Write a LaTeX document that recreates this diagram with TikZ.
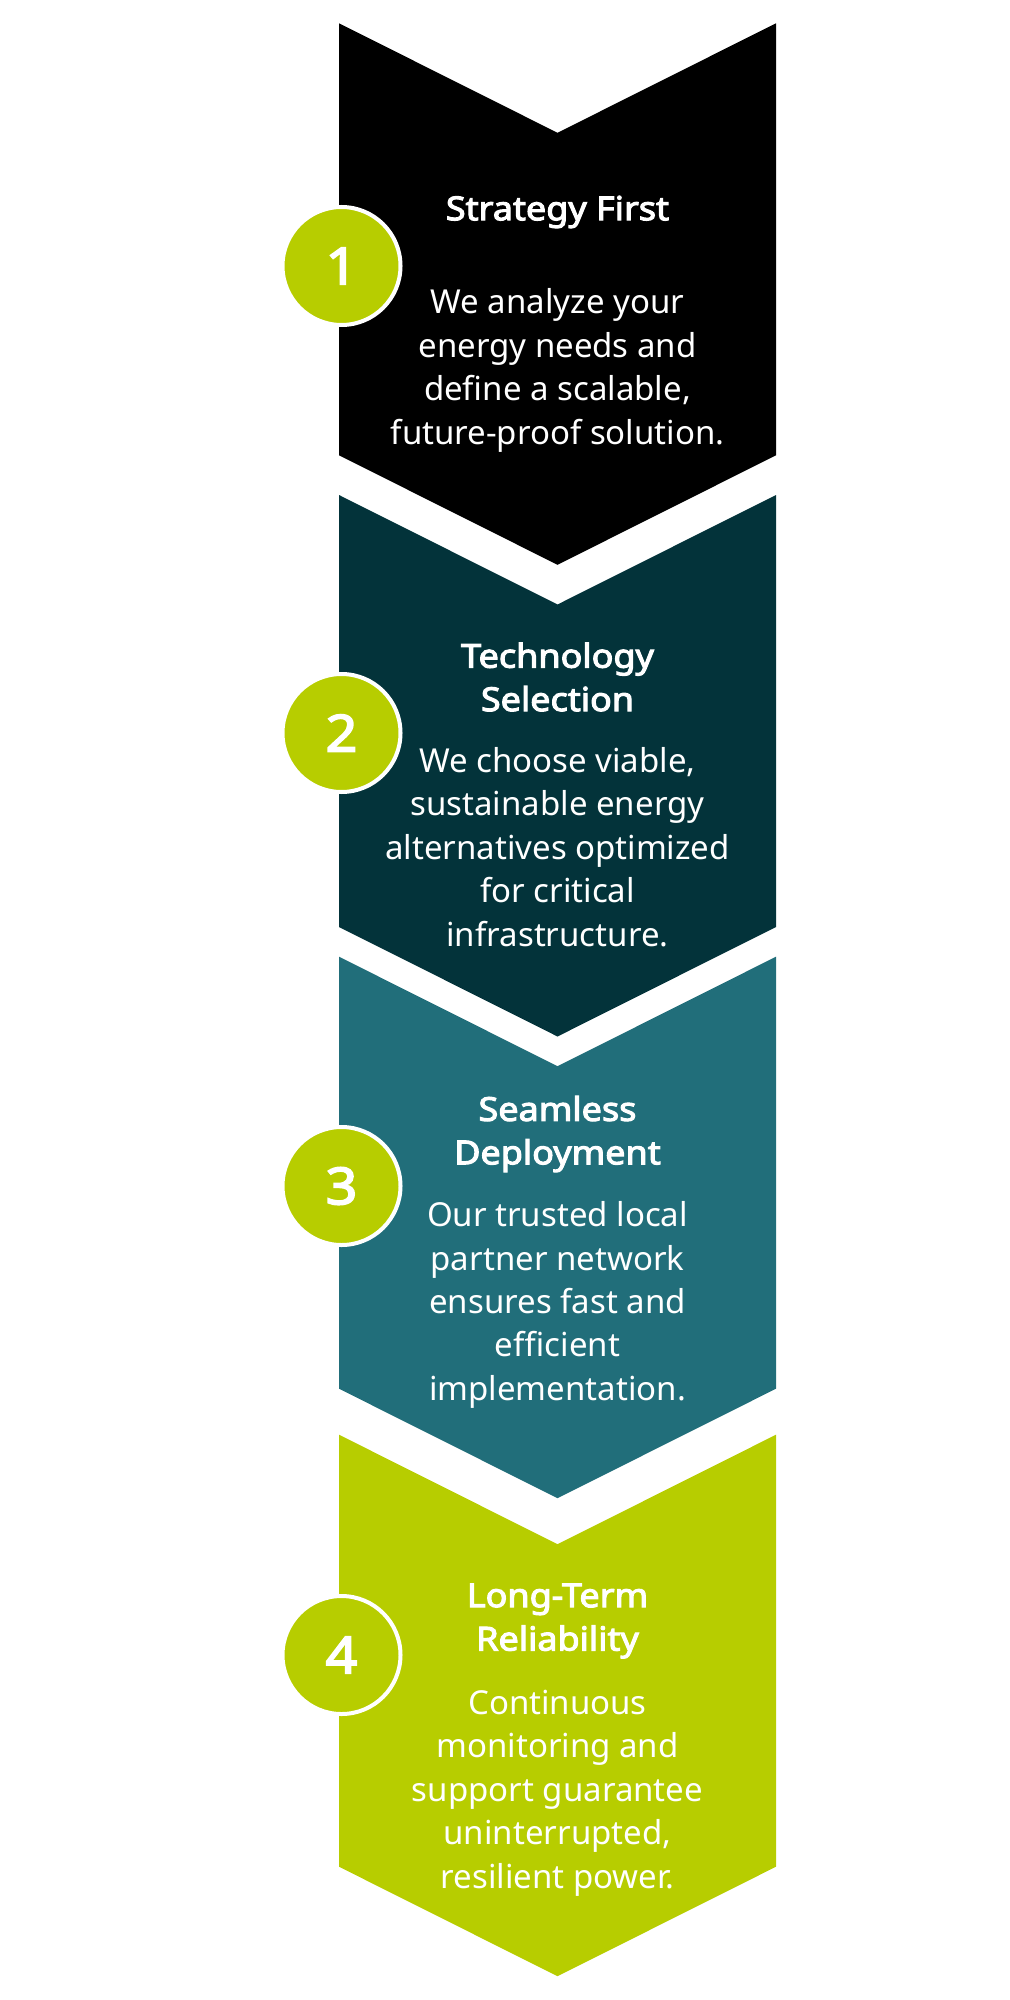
\documentclass[tikz,border=0pt]{standalone}
\usepackage{fontspec}
\setmainfont{Noto Sans}
\newfontfamily\headfont{Noto Sans}[FakeBold=3.2,FakeStretch=1.09]
\usepackage{tikz}

\definecolor{stepblack}{HTML}{000000}
\definecolor{stepdark}{HTML}{03333A}
\definecolor{stepteal}{HTML}{216E7A}
\definecolor{steplime}{HTML}{B7CD00}

\tikzset{
  title/.style={text=white, align=center, font=\fontsize{16.5}{21.7}\headfont},
  body/.style={text=white, align=center, font=\fontsize{16.5}{21.7}\selectfont},
  badge/.style={circle, fill=steplime, draw=white, line width=2pt, minimum size=59pt,
    text=white, font=\fontsize{25.5}{30}\headfont, inner sep=0pt}
}

\begin{document}
\begin{tikzpicture}[x=0.5pt,y=-0.5pt]
    \useasboundingbox (0,0) rectangle (1010,2000);
    % chevrons
    \fill[stepblack](339,23.3)--(557.5,132.8)--(776,23.3)--(776,455.3)--(557.5,564.8)--(339,455.3)--cycle;
    \fill[stepdark](339,495)--(557.5,604.5)--(776,495)--(776,927)--(557.5,1036.5)--(339,927)--cycle;
    \fill[stepteal](339,956.7)--(557.5,1066.2)--(776,956.7)--(776,1388.7)--(557.5,1498.2)--(339,1388.7)--cycle;
    \fill[steplime](339,1434.7)--(557.5,1544.2)--(776,1434.7)--(776,1866.7)--(557.5,1976.2)--(339,1866.7)--cycle;
    % numbers
    \node[badge] (n1) at (341.5,266) {1};
    \node[badge] (n2) at (341.5,733) {2};
    \node[badge] (n3) at (341.5,1186) {3};
    \node[badge] (n4) at (341.5,1655) {4};
    % texts
    \node[title] (t1) at (557.5,212) {Strategy First};
    \node[body] (b1) at (557.5,370.5) {We analyze your\\energy needs and\\define a scalable,\\future-proof solution.};
    \node[title] (t2) at (557.5,677) {Technology\\Selection};
    \node[body] (b2) at (557.5,847) {We choose viable,\\sustainable energy\\alternatives optimized\\for critical\\infrastructure.};
    \node[title] (t3) at (557.5,1134) {Seamless\\Deployment};
    \node[body] (b3) at (557.5,1305) {Our trusted local\\partner network\\ensures fast and\\efficient\\implementation.};
    \node[title] (t4) at (557.5,1621) {Long-Term\\Reliability};
    \node[body] (b4) at (557.5,1793) {Continuous\\monitoring and\\support guarantee\\uninterrupted,\\resilient power.};
\end{tikzpicture}
\end{document}
